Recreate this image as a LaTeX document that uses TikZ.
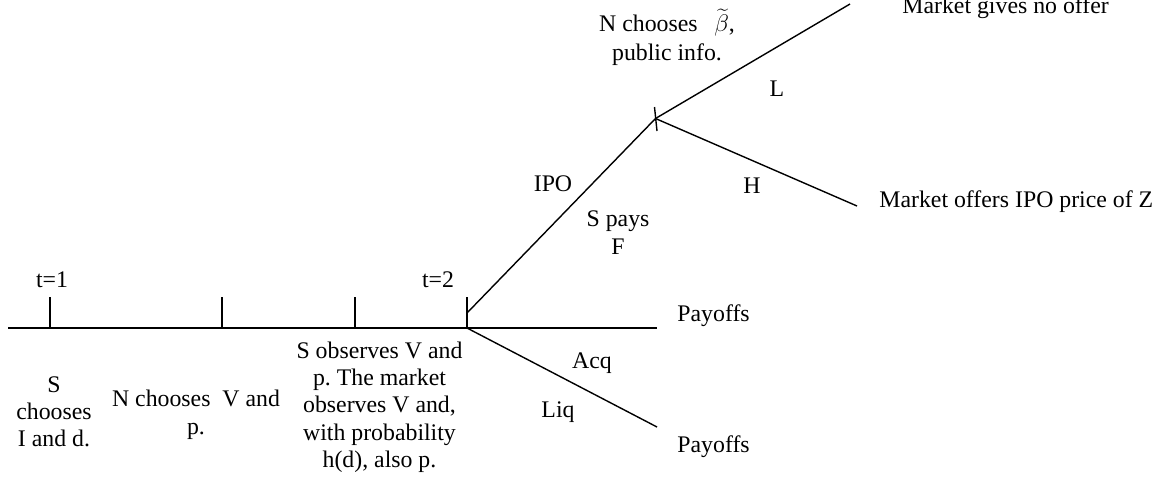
\documentclass[tikz,border=0pt]{standalone}
\usepackage{fontspec}
\setmainfont{Liberation Serif}
\frenchspacing
\begin{document}
\begin{tikzpicture}[x=0.5pt,y=-0.5pt,
  lbl/.style={inner sep=0pt, font=\fontsize{11.9}{13.65}\selectfont\frenchspacing, align=center, anchor=base},
  axisline/.style={line width=0.65pt},
  tickmark/.style={line width=1pt},
  branch/.style={line width=0.7pt}]
\useasboundingbox (0,0) rectangle (1167,488);
% time line
\coordinate (L0) at (8,328);
\coordinate (L1) at (657,328);
\coordinate (k1) at (50,328);  \coordinate (k1t) at (50,297);
\coordinate (k2) at (222,328); \coordinate (k2t) at (222,297);
\coordinate (k3) at (355,328); \coordinate (k3t) at (355,297);
\coordinate (k4) at (467,329); \coordinate (k4t) at (467,297);
\coordinate (ipo0) at (467,313);
\coordinate (n3) at (655.5,118.5);
\coordinate (n3a) at (654.5,107);
\coordinate (n3b) at (657,131);
\coordinate (up) at (850,4);
\coordinate (dn) at (857,206);
\coordinate (acq) at (657,427);
\draw[axisline] (L0) -- (L1);
\draw[tickmark] (k1) -- (k1t);
\draw[tickmark] (k2) -- (k2t);
\draw[tickmark] (k3) -- (k3t);
\draw[tickmark] (k4) -- (k4t);
\draw[branch] (ipo0) -- (n3);
\draw[branch] (n3a) -- (n3b);
\draw[branch] (n3) -- (up);
\draw[branch] (n3) -- (dn);
\draw[branch] (k1 -| k4) -- (acq);
% labels
\node[lbl] (t1) at (52,287) {t=1};
\node[lbl] (t2) at (438,287) {t=2};
\node[lbl, anchor=base west] (pay1) at (677,321) {Payoffs};
\node[lbl, anchor=base west] (pay2) at (677,452.5) {Payoffs};
\node[lbl, anchor=base west] (mo) at (879,207) {Market offers IPO price of Z};
\node[lbl, anchor=base west] (mg) at (902,13) {Market gives no offer};
\node[lbl, font=\fontsize{11.9}{14.15}\selectfont] (nb) at (667,60) {N chooses\hspace{8.3pt}$\widetilde{\beta}$,\\public info.};
\node[lbl, anchor=center] (lL) at (777,89) {L};
\node[lbl, anchor=center] (lH) at (752,186) {H};
\node[lbl, anchor=center] (lIPO) at (553,184) {IPO};
\node[lbl] (sp) at (618,254) {S pays\\F};
\node[lbl, anchor=center] (lacq) at (592,363) {Acq};
\node[lbl, anchor=center] (lliq) at (558,412) {Liq};
\node[lbl] (c1) at (54,446.6) {S\\chooses\\I and d.};
\node[lbl] (c2) at (196,434) {N chooses\ \ V and\\p.};
\node[lbl] (c3) at (379.5,467.5) {S observes V and\\p. The market\\observes V and,\\with probability\\h(d), also p.};
\end{tikzpicture}
\end{document}
